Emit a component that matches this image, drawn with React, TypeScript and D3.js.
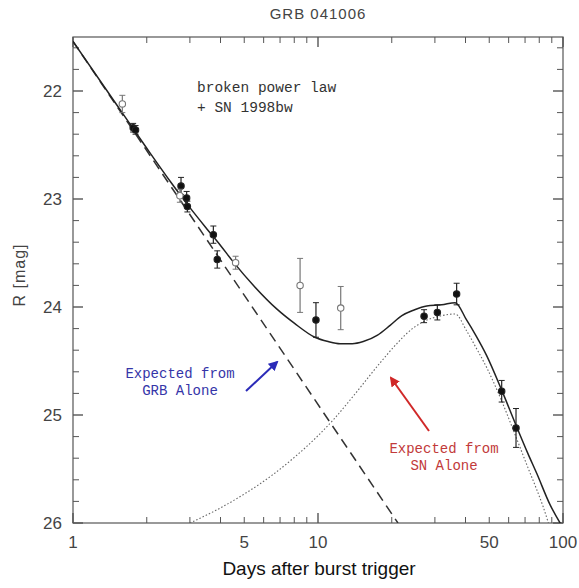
import React from "react";
import * as d3 from "d3";

// ---- data ----
const obsDays = [1.59, 1.76, 1.8, 2.76, 2.73, 2.91, 2.93, 3.74, 3.88, 4.61, 8.45, 9.81, 12.38, 27.1, 30.7, 36.8, 56.2, 64.3];
const obsMag = [22.12, 22.34, 22.36, 22.88, 22.97, 22.99, 23.07, 23.33, 23.56, 23.59, 23.8, 24.12, 24.01, 24.085, 24.05, 23.88, 24.78, 25.12];
const obsErr = [0.08, 0.04, 0.04, 0.08, 0.06, 0.06, 0.05, 0.08, 0.08, 0.06, 0.25, 0.16, 0.2, 0.06, 0.07, 0.1, 0.1, 0.18];
const obsOpen = [true, false, false, false, true, false, false, false, false, true, true, false, true, false, false, false, false, false];

const totalDays = [1, 1.5, 2, 2.5, 3, 3.5, 4, 4.5, 5.5, 6.8, 8, 9.7, 11, 12.3, 13.8, 15.3, 17.5, 19.7, 22, 24.5, 27.8, 32, 36.3, 40.4, 44, 48.8, 56.2, 64.7, 72, 78.1, 88.5, 98.5];
const totalMag = [21.54, 22.12, 22.53, 22.84, 23.08, 23.27, 23.43, 23.58, 23.81, 24.02, 24.15, 24.28, 24.32, 24.34, 24.34, 24.32, 24.26, 24.17, 24.08, 24.03, 23.99, 23.98, 23.96, 24.12, 24.26, 24.45, 24.77, 25.11, 25.36, 25.54, 25.83, 26.02];

const grbDays = [1, 21.2];
const grbMag = [21.54, 26.0];

const snDays = [3.0, 4.0, 5.0, 6.5, 8, 10, 11.7, 14, 17.9, 21, 24.5, 28, 32, 36.3, 40.4, 44, 48.8, 56.2, 64.7, 72, 78.1, 83, 88];
const snMag = [26.0, 25.86, 25.732, 25.557, 25.393, 25.192, 25.03, 24.819, 24.519, 24.338, 24.193, 24.119, 24.08, 24.065, 24.22, 24.37, 24.56, 24.87, 25.22, 25.49, 25.69, 25.85, 26.03];

const xTickLabels = [1, 5, 10, 50, 100];
const xMajorTicks = [1, 10, 100];
const xMinorTicks = [2, 3, 4, 5, 6, 7, 8, 9, 20, 30, 40, 50, 60, 70, 80, 90];
const yTickLabels = [22, 23, 24, 25, 26];
const yMinorTicks = [21.6, 21.8, 22.2, 22.4, 22.6, 22.8, 23.2, 23.4, 23.6, 23.8, 24.2, 24.4, 24.6, 24.8, 25.2, 25.4, 25.6, 25.8];

const W = 579;
const H = 588;
const L = 73, R = 563, T = 37, B = 523;

export default function App() {
  const x = d3.scaleLog().domain([1, 100]).range([L, R]);
  const y = d3.scaleLinear().domain([21.5, 26]).range([T, B]);

  const mk = (xs: number[], ys: number[]) =>
    d3
      .line<number>()
      .x((_, i) => x(xs[i]))
      .y((_, i) => y(ys[i]))
      .curve(d3.curveMonotoneX)(xs) || "";

  const axisCol = "#555";
  const tickFont = "'Liberation Sans', Arial, sans-serif";
  const mono = "'Liberation Mono', 'Courier New', monospace";

  return (
    <svg
      width={W}
      height={H}
      style={{ position: "absolute", left: 0, top: 0, background: "#fff" }}
    >
      <defs>
        <clipPath id="plotclip">
          <rect x={L} y={T} width={R - L} height={B - T} />
        </clipPath>
        <marker id="arrBlue" viewBox="0 0 10 10" refX="8" refY="5" markerWidth="5" markerHeight="5" orient="auto">
          <path d="M0,0 L10,5 L0,10 z" fill="#2b2bb8" />
        </marker>
        <marker id="arrRed" viewBox="0 0 10 10" refX="8" refY="5" markerWidth="5" markerHeight="5" orient="auto">
          <path d="M0,0 L10,5 L0,10 z" fill="#d02828" />
        </marker>
      </defs>

      {/* title */}
      <text x={318} y={19} textAnchor="middle" fontFamily={tickFont} fontSize={15} fill="#444" letterSpacing={1}>
        GRB 041006
      </text>

      {/* frame */}
      <rect x={L} y={T} width={R - L} height={B - T} fill="none" stroke={axisCol} strokeWidth={1.2} />

      {/* x ticks */}
      {xMajorTicks.map((v) => (
        <g key={"xM" + v}>
          <line x1={x(v)} x2={x(v)} y1={B} y2={B - 10} stroke={axisCol} strokeWidth={1.4} />
          <line x1={x(v)} x2={x(v)} y1={T} y2={T + 10} stroke={axisCol} strokeWidth={1.4} />
        </g>
      ))}
      {xMinorTicks.map((v) => (
        <g key={"xm" + v}>
          <line x1={x(v)} x2={x(v)} y1={B} y2={B - 6} stroke={axisCol} strokeWidth={1} />
          <line x1={x(v)} x2={x(v)} y1={T} y2={T + 6} stroke={axisCol} strokeWidth={1} />
        </g>
      ))}
      {xTickLabels.map((v) => (
        <text key={"xl" + v} x={x(v)} y={B + 25} textAnchor="middle" fontFamily={tickFont} fontSize={17} fill="#444">
          {v}
        </text>
      ))}

      {/* y ticks */}
      {yTickLabels.map((v) => (
        <g key={"yM" + v}>
          <line x1={L} x2={L + 10} y1={y(v)} y2={y(v)} stroke={axisCol} strokeWidth={1.4} />
          <line x1={R} x2={R - 10} y1={y(v)} y2={y(v)} stroke={axisCol} strokeWidth={1.4} />
          <text x={L - 11} y={y(v) + 6} textAnchor="end" fontFamily={tickFont} fontSize={17} fill="#444">
            {v}
          </text>
        </g>
      ))}
      {yMinorTicks.map((v) => (
        <g key={"ym" + v}>
          <line x1={L} x2={L + 6} y1={y(v)} y2={y(v)} stroke={axisCol} strokeWidth={1} />
          <line x1={R} x2={R - 6} y1={y(v)} y2={y(v)} stroke={axisCol} strokeWidth={1} />
        </g>
      ))}

      {/* axis labels */}
      <text x={319} y={575} textAnchor="middle" fontFamily={tickFont} fontSize={19} fill="#111">
        Days after burst trigger
      </text>
      <text
        transform={`translate(25, ${275}) rotate(-90)`}
        textAnchor="middle"
        fontFamily={tickFont}
        fontSize={16}
        fill="#444"
        letterSpacing={1}
      >
        R [mag]
      </text>

      {/* model curves */}
      <g clipPath="url(#plotclip)">
        <path d={mk(grbDays, grbMag)} fill="none" stroke="#333" strokeWidth={1.5} strokeDasharray="10,6" />
        <path d={mk(snDays, snMag)} fill="none" stroke="#666" strokeWidth={1.1} strokeDasharray="1.5,2" />
        <path d={mk(totalDays, totalMag)} fill="none" stroke="#222" strokeWidth={1.5} />
      </g>

      {/* observations */}
      {obsDays.map((d, i) => {
        const cx = x(d);
        const y1 = y(obsMag[i] - obsErr[i]);
        const y2 = y(obsMag[i] + obsErr[i]);
        const col = obsOpen[i] ? "#777" : "#222";
        return (
          <g key={"o" + i}>
            <line x1={cx} x2={cx} y1={y1} y2={y2} stroke={col} strokeWidth={1.2} />
            <line x1={cx - 3} x2={cx + 3} y1={y1} y2={y1} stroke={col} strokeWidth={1} />
            <line x1={cx - 3} x2={cx + 3} y1={y2} y2={y2} stroke={col} strokeWidth={1} />
            <circle
              cx={cx}
              cy={y(obsMag[i])}
              r={3.2}
              fill={obsOpen[i] ? "#fff" : "#111"}
              stroke={col}
              strokeWidth={1.1}
            />
          </g>
        );
      })}

      {/* legend text */}
      <text x={197} y={92} fontFamily={mono} fontSize={14.5} fill="#333">
        broken power law
      </text>
      <text x={197} y={112} fontFamily={mono} fontSize={14.5} fill="#333" xmlSpace="preserve">
        + SN 1998bw
      </text>

      {/* annotations */}
      <text x={180} y={378} textAnchor="middle" fontFamily={mono} fontSize={14} fill="#3535a8">
        Expected from
      </text>
      <text x={180} y={395} textAnchor="middle" fontFamily={mono} fontSize={14} fill="#3535a8">
        GRB Alone
      </text>
      <line x1={246} y1={391} x2={277} y2={362} stroke="#2b2bb8" strokeWidth={2} markerEnd="url(#arrBlue)" />

      <text x={444} y={453} textAnchor="middle" fontFamily={mono} fontSize={14} fill="#c23a3a">
        Expected from
      </text>
      <text x={444} y={470} textAnchor="middle" fontFamily={mono} fontSize={14} fill="#c23a3a">
        SN Alone
      </text>
      <line x1={429} y1={431} x2={391} y2={378} stroke="#d02828" strokeWidth={2} markerEnd="url(#arrRed)" />
    </svg>
  );
}
